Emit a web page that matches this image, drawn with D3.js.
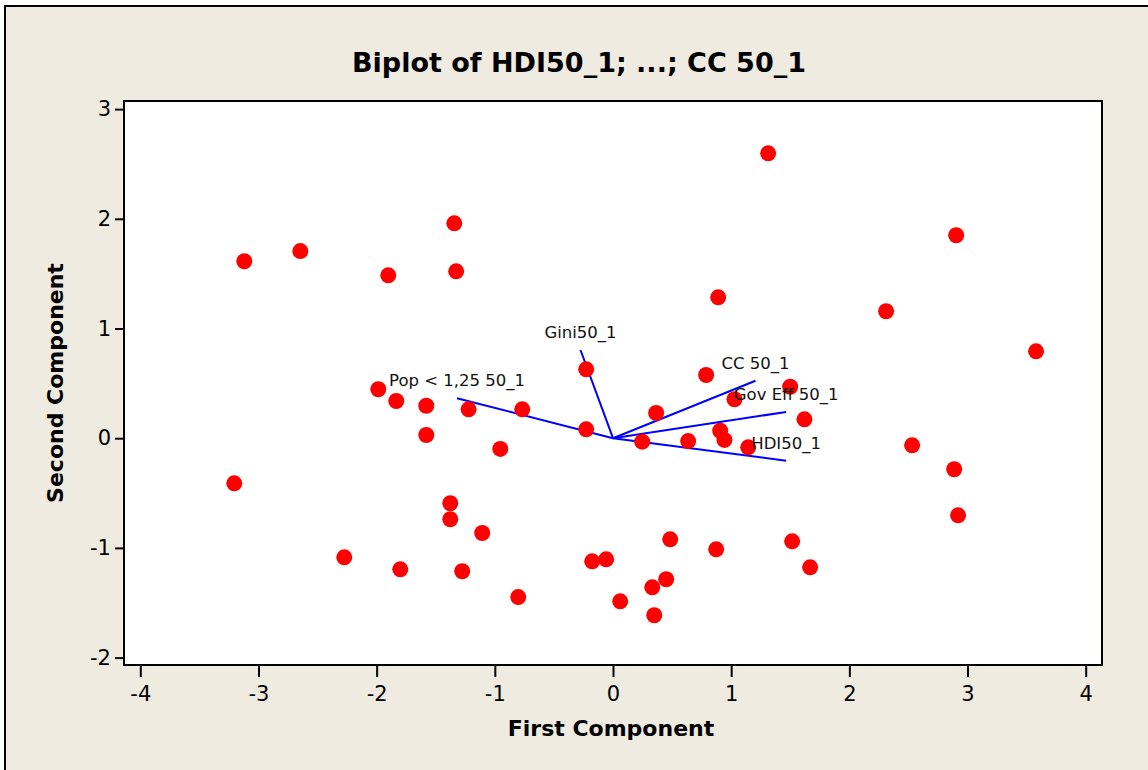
<!DOCTYPE html>
<html>
<head>
<meta charset="utf-8">
<script src="https://cdn.jsdelivr.net/npm/d3@7"></script>
<style>
  html, body { margin: 0; padding: 0; background: #ffffff; }
  svg { display: block; }
  text { font-family: "DejaVu Sans", Verdana, sans-serif; }
</style>
</head>
<body>
<svg id="chart" width="1148" height="770"></svg>
<script>
// ---- data ----
const title = "Biplot of HDI50_1; ...; CC 50_1";
const xLabel = "First Component";
const yLabel = "Second Component";
const xTicks = [-4, -3, -2, -1, 0, 1, 2, 3, 4];
const yTicks = [-2, -1, 0, 1, 2, 3];

const scoreX = [1.313, -1.343, -3.120, -2.646, -1.902, -1.327, 2.904, 0.890, 2.311, 3.580,
  -0.227, 0.788, -1.986, -1.834, -1.580, -1.222, -0.768, -0.227, -1.580, -0.954,
  0.365, 0.247, 1.499, 1.028, 1.620, 0.907, 0.943, 0.636, 1.144, 2.531,
  2.887, 2.920, -3.205, -1.377, -1.377, -1.107, -2.274, -1.800, -1.276, -0.802,
  -0.176, -0.058, 0.484, 0.873, 1.516, 1.668, 0.061, 0.332, 0.450, 0.349];
const scoreY = [2.597, 1.959, 1.613, 1.706, 1.485, 1.521, 1.850, 1.284, 1.157, 0.792,
  0.628, 0.576, 0.446, 0.339, 0.296, 0.263, 0.263, 0.081, 0.029, -0.098,
  0.230, -0.032, 0.469, 0.355, 0.172, 0.068, -0.016, -0.026, -0.083, -0.065,
  -0.283, -0.703, -0.411, -0.593, -0.739, -0.864, -1.086, -1.195, -1.213, -1.448,
  -1.122, -1.104, -0.922, -1.013, -0.940, -1.177, -1.487, -1.359, -1.286, -1.614];

const loadNames = ["Gini50_1", "Pop < 1,25 50_1", "CC 50_1", "Gov Eff 50_1", "HDI50_1"];
const loadX = [-0.275, -1.320, 1.206, 1.465, 1.465];
const loadY = [0.804, 0.364, 0.524, 0.239, -0.205];

// ---- layout ----
const W = 1148, H = 770;
const frame = { left: 124, right: 1102, top: 101, bottom: 665 };
const svg = d3.select("#chart");

// page background with border
svg.append("rect").attr("x", 5).attr("y", 6).attr("width", W + 10).attr("height", H + 10)
  .attr("fill", "#EFEBE0").attr("stroke", "#000").attr("stroke-width", 2);

// plot area
svg.append("rect").attr("x", frame.left).attr("y", frame.top)
  .attr("width", frame.right - frame.left).attr("height", frame.bottom - frame.top)
  .attr("fill", "#ffffff");

const x = d3.scaleLinear().domain([-4, 4]).range([140.3, 1085.7]);
const y = d3.scaleLinear().domain([-2, 3]).range([657.6, 109.1]);

// axes
const fmt = d => String(d);
const xAxis = svg.append("g").attr("transform", `translate(0,${frame.bottom})`)
  .call(d3.axisBottom(x).tickValues(xTicks).tickSize(12).tickPadding(9).tickFormat(fmt));
const yAxis = svg.append("g").attr("transform", `translate(${frame.left},0)`)
  .call(d3.axisLeft(y).tickValues(yTicks).tickSize(9).tickPadding(4).tickFormat(fmt));
[xAxis, yAxis].forEach(g => {
  g.attr("font-family", null).attr("font-size", null);
  g.select(".domain").remove();
  g.selectAll(".tick line").attr("stroke", "#000").attr("stroke-width", 2);
  g.selectAll(".tick text").attr("fill", "#000")
    .style("font-size", "21px")
    .style("font-family", "'DejaVu Sans', Verdana, sans-serif");
});

// loading vectors
const gVec = svg.append("g");
loadNames.forEach((n, i) => {
  gVec.append("line")
    .attr("x1", x(0)).attr("y1", y(0))
    .attr("x2", x(loadX[i])).attr("y2", y(loadY[i]))
    .attr("stroke", "#0000FF").attr("stroke-width", 2);
});

// score points
svg.append("g").selectAll("circle")
  .data(scoreX.map((v, i) => [v, scoreY[i]]))
  .join("circle")
  .attr("cx", d => x(d[0])).attr("cy", d => y(d[1]))
  .attr("r", 8).attr("fill", "#FF0000");

// vector labels
loadNames.forEach((n, i) => {
  svg.append("text")
    .attr("x", x(loadX[i])).attr("y", y(loadY[i]) - 12)
    .attr("text-anchor", "middle")
    .attr("fill", "#111")
    .style("font-size", "16.5px")
    .text(n);
});

// frame
svg.append("rect").attr("x", frame.left).attr("y", frame.top)
  .attr("width", frame.right - frame.left).attr("height", frame.bottom - frame.top)
  .attr("fill", "none").attr("stroke", "#000").attr("stroke-width", 2);

// title and axis labels
svg.append("text").attr("x", 579).attr("y", 72).attr("text-anchor", "middle")
  .style("font-size", "27px").style("font-weight", "bold").attr("fill", "#000").text(title);
svg.append("text").attr("x", 611).attr("y", 736).attr("text-anchor", "middle")
  .style("font-size", "22px").style("font-weight", "bold").attr("fill", "#000").text(xLabel);
svg.append("text").attr("transform", `translate(63,${(frame.top + frame.bottom) / 2}) rotate(-90)`)
  .attr("text-anchor", "middle")
  .style("font-size", "22px").style("font-weight", "bold").attr("fill", "#000").text(yLabel);
</script>
</body>
</html>
